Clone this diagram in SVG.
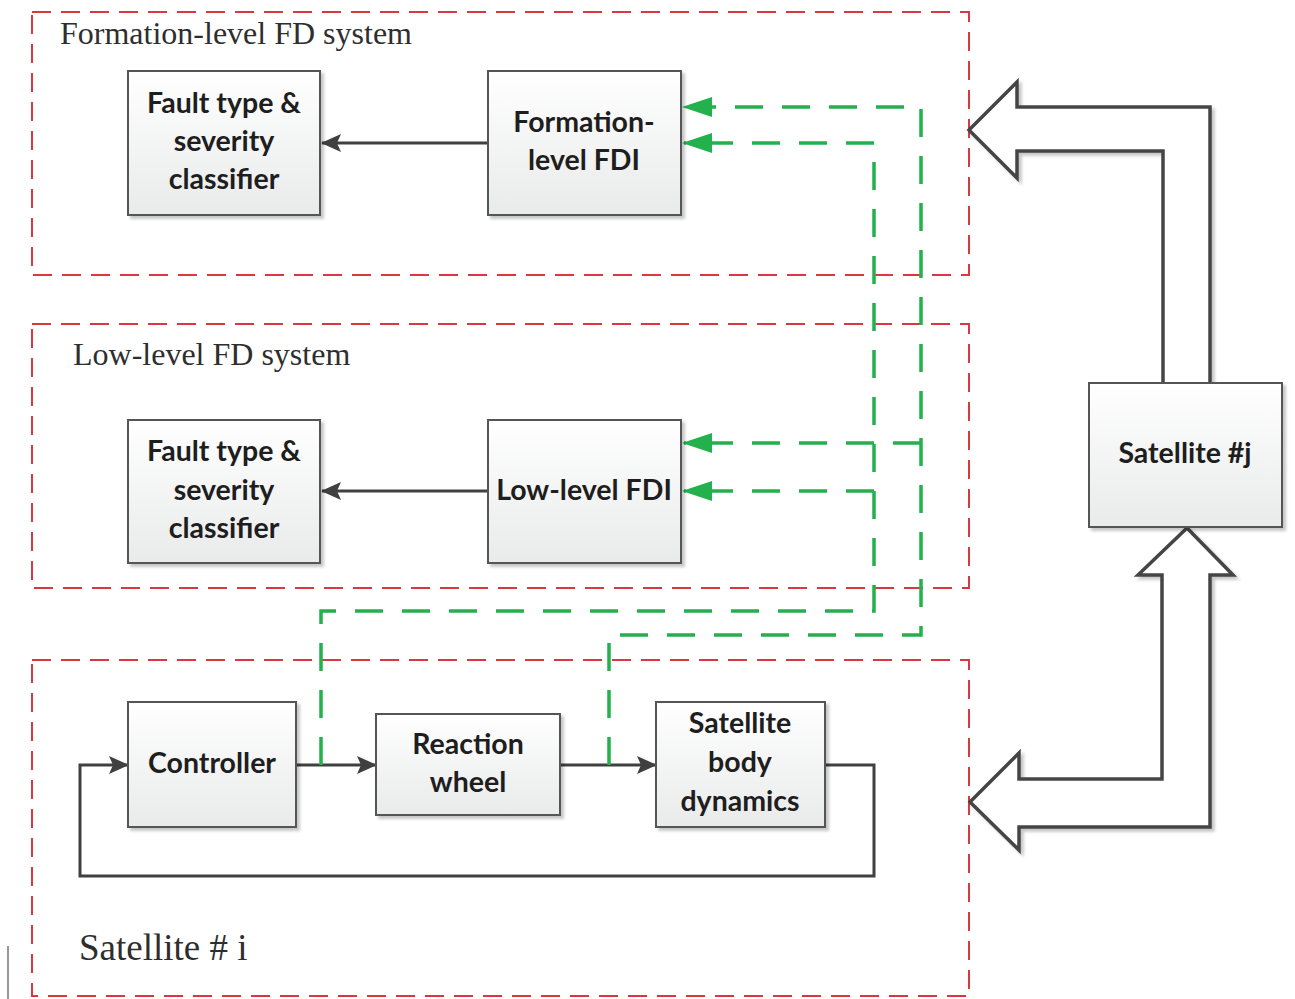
<svg xmlns="http://www.w3.org/2000/svg" width="1295" height="999" viewBox="0 0 1295 999">
  <style>
    .zone { fill: none; stroke: #d7393f; stroke-width: 2; stroke-dasharray: 19 10; }
    .zone-title { font-family: "Liberation Serif", "Times New Roman", serif; fill: #2e2e2e; }
    .block { fill: url(#blockFill); stroke: #555555; stroke-width: 2; filter: url(#shadow); }
    .label { font-family: Lato, "Liberation Sans", Arial, sans-serif; font-weight: bold; font-size: 28.5px; fill: #1e1e1e; text-anchor: middle; }
    .flow { fill: none; stroke: #404040; stroke-width: 3; }
    .tap { fill: none; stroke: #22b14c; stroke-width: 3.5; stroke-dasharray: 28 19; }
    .link { fill: #ffffff; stroke: #454545; stroke-width: 3.5; stroke-linejoin: miter; filter: url(#shadow); }
  </style>
  <defs>
    <linearGradient id="blockFill" x1="0" y1="0" x2="0" y2="1">
      <stop offset="0" stop-color="#ffffff"/>
      <stop offset="1" stop-color="#e9eaea"/>
    </linearGradient>
    <filter id="shadow" x="-10%" y="-10%" width="130%" height="130%">
      <feDropShadow dx="3" dy="3" stdDeviation="1.5" flood-color="#000000" flood-opacity="0.22"/>
    </filter>
    <marker id="headDark" viewBox="0 0 20 18" refX="19" refY="9" markerWidth="20" markerHeight="18" markerUnits="userSpaceOnUse" orient="auto">
      <path d="M0,0 L20,9 L0,18 L4,9 z" fill="#404040"/>
    </marker>
    <marker id="headGreen" viewBox="0 0 30 20" refX="28" refY="10" markerWidth="30" markerHeight="20" markerUnits="userSpaceOnUse" orient="auto">
      <path d="M0,0 L30,10 L0,20 z" fill="#22b14c"/>
    </marker>
  </defs>

  <rect width="1295" height="999" fill="#ffffff"/>

  <!-- dashed system boundaries -->
  <g id="formation-system">
    <rect class="zone" x="32" y="12" width="937" height="263"/>
    <text class="zone-title" x="60" y="44" font-size="32">Formation-level FD system</text>
  </g>
  <g id="low-level-system">
    <rect class="zone" x="32" y="324" width="937" height="264"/>
    <text class="zone-title" x="73" y="365" font-size="32">Low-level FD system</text>
  </g>
  <g id="satellite-i">
    <rect class="zone" x="32" y="660" width="937" height="336"/>
    <text class="zone-title" x="79" y="960" font-size="37">Satellite # i</text>
  </g>

  <!-- inter-satellite links -->
  <g id="links">
    <path class="link" d="M1163,383 V151 H1017 V178 L969,130 L1017,82 V107 H1210 V383"/>
    <path class="link" d="M1187,528 L1233,575 H1210 V827 H1019 V850 L970,802 L1019,753 V779 H1162 V575 H1138 z"/>
  </g>

  <!-- connectors -->
  <g id="connectors">
    <path class="flow" d="M488,143 H322" marker-end="url(#headDark)"/>
    <path class="flow" d="M488,491 H322" marker-end="url(#headDark)"/>
    <path class="flow" d="M296,765 H376" marker-end="url(#headDark)"/>
    <path class="flow" d="M560,765 H656" marker-end="url(#headDark)"/>
    <path class="flow" d="M825,765 H874 V876 H80 V765 H128" marker-end="url(#headDark)"/>

    <path class="tap" d="M609,765 V635 H921 V107 H684" marker-end="url(#headGreen)"/>
    <path class="tap" d="M921,443 H684" marker-end="url(#headGreen)"/>
    <path class="tap" d="M321,765 V611 H874 V143 H684" marker-end="url(#headGreen)"/>
    <path class="tap" d="M874,491 H684" marker-end="url(#headGreen)"/>
  </g>

  <!-- blocks -->
  <g id="classifier-formation">
    <rect class="block" x="128" y="71" width="192" height="144"/>
    <text class="label" x="224" y="113">Fault type &amp;</text>
    <text class="label" x="224" y="151">severity</text>
    <text class="label" x="224" y="189">classifier</text>
  </g>
  <g id="fdi-formation">
    <rect class="block" x="488" y="71" width="193" height="144"/>
    <text class="label" x="584" y="132">Formation-</text>
    <text class="label" x="584" y="170">level FDI</text>
  </g>
  <g id="classifier-low">
    <rect class="block" x="128" y="420" width="192" height="143"/>
    <text class="label" x="224" y="461">Fault type &amp;</text>
    <text class="label" x="224" y="500">severity</text>
    <text class="label" x="224" y="538">classifier</text>
  </g>
  <g id="fdi-low">
    <rect class="block" x="488" y="420" width="193" height="143"/>
    <text class="label" x="584" y="500">Low-level FDI</text>
  </g>
  <g id="satellite-j">
    <rect class="block" x="1089" y="383" width="193" height="144"/>
    <text class="label" x="1185" y="463">Satellite #j</text>
  </g>
  <g id="controller">
    <rect class="block" x="128" y="702" width="168" height="125"/>
    <text class="label" x="212" y="773">Controller</text>
  </g>
  <g id="reaction-wheel">
    <rect class="block" x="376" y="714" width="184" height="101"/>
    <text class="label" x="468" y="754">Reaction</text>
    <text class="label" x="468" y="792">wheel</text>
  </g>
  <g id="body-dynamics">
    <rect class="block" x="656" y="702" width="169" height="125"/>
    <text class="label" x="740" y="733">Satellite</text>
    <text class="label" x="740" y="772">body</text>
    <text class="label" x="740" y="811">dynamics</text>
  </g>

  <!-- edge rule at lower left -->
  <line x1="8" y1="946" x2="8" y2="999" stroke="#555555" stroke-width="1.2"/>
</svg>
